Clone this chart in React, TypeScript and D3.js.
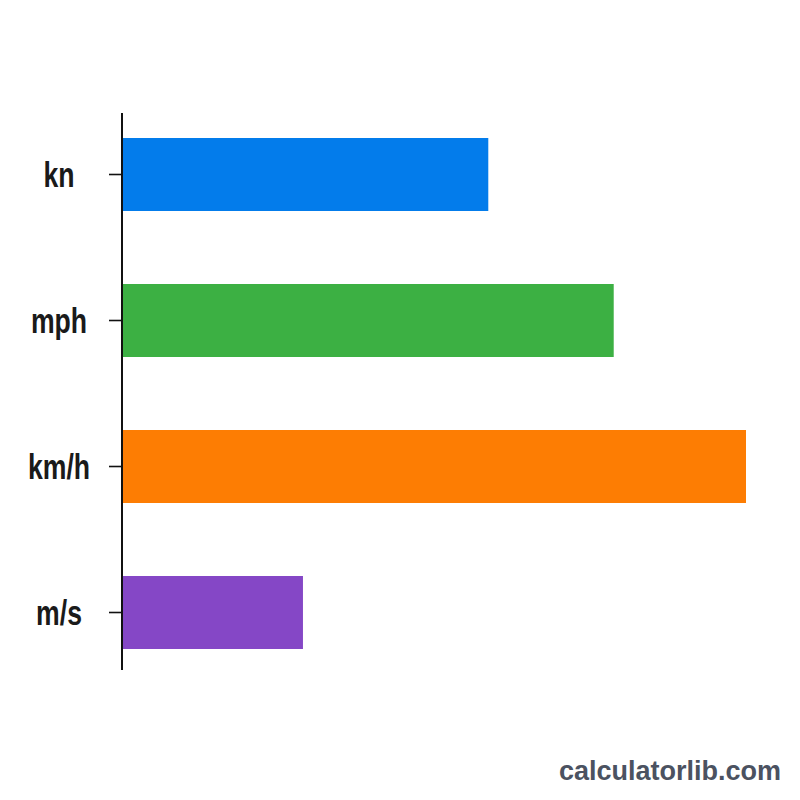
import React, { useEffect, useRef } from 'react';
import * as d3 from 'd3';

const units = ['kn', 'mph', 'km/h', 'm/s'];
const speeds = [58.7, 78.8, 100, 29.0];
const barColors = ['#037ceb', '#3cb043', '#fd7d03', '#8547c6'];

const App: React.FC = () => {
  const svgRef = useRef<SVGSVGElement>(null);

  useEffect(() => {
    if (!svgRef.current) return;
    const svg = d3.select(svgRef.current);
    svg.selectAll('*').remove();

    const width = 800;
    const height = 800;
    const margin = { top: 101.5, right: 54, bottom: 114.5, left: 122 };
    const axisTop = 113;
    const axisBottom = 670;

    const y = d3
      .scaleBand()
      .domain(units)
      .range([margin.top, height - margin.bottom])
      .paddingInner(0.5)
      .paddingOuter(0.25);

    const x = d3
      .scaleLinear()
      .domain([0, d3.max(speeds) || 0])
      .range([margin.left, width - margin.right]);

    svg.append('rect').attr('width', width).attr('height', height).attr('fill', '#ffffff');

    // bars
    svg
      .append('g')
      .selectAll('rect')
      .data(units)
      .enter()
      .append('rect')
      .attr('x', x(0))
      .attr('y', (d) => y(d) || 0)
      .attr('width', (d, i) => x(speeds[i]) - x(0))
      .attr('height', y.bandwidth())
      .attr('fill', (d, i) => barColors[i]);

    // y axis (ticks only, domain line drawn by hand so it can overhang the bands)
    const axis = svg
      .append('g')
      .attr('transform', `translate(${margin.left},0)`)
      .call(d3.axisLeft(y).tickSize(13).tickSizeOuter(0).tickFormat(() => ''));
    axis.select('.domain').remove();
    axis.selectAll('.tick line').attr('stroke', '#111').attr('stroke-width', 1.6);
    axis
      .append('line')
      .attr('x1', 0)
      .attr('x2', 0)
      .attr('y1', axisTop)
      .attr('y2', axisBottom)
      .attr('stroke', '#111')
      .attr('stroke-width', 2);

    // category labels, condensed look
    svg
      .append('g')
      .selectAll('text')
      .data(units)
      .enter()
      .append('text')
      .attr('transform', (d) => `translate(59,${(y(d) || 0) + y.bandwidth() / 2 + 12}) scale(0.74,1)`)
      .attr('text-anchor', 'middle')
      .style('font-family', "'Liberation Sans', Arial, sans-serif")
      .style('font-size', '36px')
      .style('font-weight', '700')
      .attr('fill', '#1a1a1a')
      .text((d) => d);

    // watermark
    svg
      .append('text')
      .attr('x', 781)
      .attr('y', 780)
      .attr('text-anchor', 'end')
      .style('font-family', "'Liberation Sans', Arial, sans-serif")
      .style('font-size', '27px')
      .style('font-weight', '700')
      .attr('fill', '#4b5261')
      .text('calculatorlib.com');
  }, []);

  return (
    <div style={{ position: 'absolute', left: 0, top: 0 }}>
      <svg ref={svgRef} width={800} height={800} style={{ display: 'block' }} />
    </div>
  );
};

export default App;
